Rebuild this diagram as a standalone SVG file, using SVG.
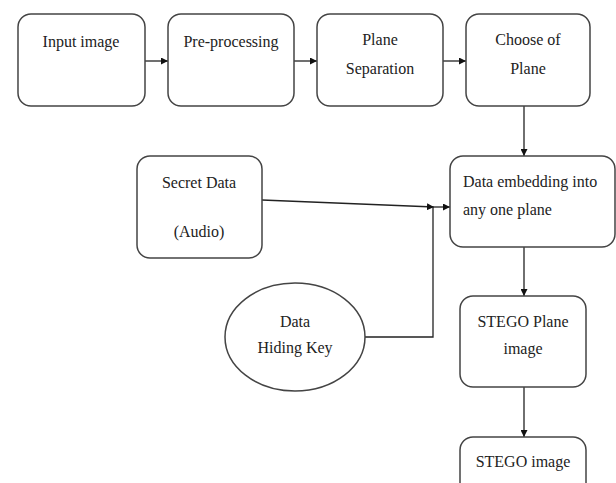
<svg xmlns="http://www.w3.org/2000/svg" width="616" height="483" viewBox="0 0 616 483">
<defs>
<style>
.box{fill:#fff;stroke:#444;stroke-width:1.5}
.t{font-family:"Liberation Serif","Times New Roman",serif;font-size:16px;fill:#222}
.c{text-anchor:middle}
.ln{fill:none;stroke:#222;stroke-width:1.3}
</style>
<marker id="ah" viewBox="0 0 10 10" refX="10" refY="5" markerWidth="7" markerHeight="7" markerUnits="userSpaceOnUse" orient="auto">
<path d="M0,0 L10,5 L0,10 z" fill="#111"/>
</marker>
</defs>
<rect width="616" height="483" fill="#fff"/>
<g id="connectors">
<line class="ln" x1="145" y1="61" x2="168" y2="61" marker-end="url(#ah)"/>
<line class="ln" x1="294" y1="61" x2="317" y2="61" marker-end="url(#ah)"/>
<line class="ln" x1="443" y1="61" x2="466" y2="61" marker-end="url(#ah)"/>
<line class="ln" x1="524" y1="106" x2="524" y2="156" marker-end="url(#ah)"/>
<line class="ln" x1="262" y1="200" x2="434" y2="207" marker-end="url(#ah)"/>
<polyline class="ln" points="365,337 433,337 433,207"/>
<line class="ln" x1="434" y1="207" x2="450" y2="207" marker-end="url(#ah)"/>
<line class="ln" x1="524" y1="247" x2="524" y2="296" marker-end="url(#ah)"/>
<line class="ln" x1="524" y1="387" x2="524" y2="437" marker-end="url(#ah)"/>
</g>
<g id="input-image">
<rect class="box" x="18" y="14" width="127" height="92" rx="13"/>
<text class="t c" x="81" y="47">Input image</text>
</g>
<g id="pre-processing">
<rect class="box" x="168" y="14" width="126" height="92" rx="13"/>
<text class="t c" x="231" y="47">Pre-processing</text>
</g>
<g id="plane-separation">
<rect class="box" x="317" y="14" width="126" height="92" rx="13"/>
<text class="t c" x="380" y="45">Plane</text>
<text class="t c" x="380" y="74">Separation</text>
</g>
<g id="choose-of-plane">
<rect class="box" x="466" y="14" width="124" height="92" rx="13"/>
<text class="t c" x="528" y="45">Choose of</text>
<text class="t c" x="528" y="74">Plane</text>
</g>
<g id="secret-data">
<rect class="box" x="137" y="156" width="125" height="102" rx="13"/>
<text class="t c" x="199" y="188">Secret Data</text>
<text class="t c" x="199" y="237">(Audio)</text>
</g>
<g id="data-embedding">
<rect class="box" x="450" y="156" width="165" height="91" rx="13"/>
<text class="t" x="463" y="187">Data embedding into</text>
<text class="t" x="463" y="215">any one plane</text>
</g>
<g id="data-hiding-key">
<ellipse class="box" cx="295" cy="337" rx="70" ry="54"/>
<text class="t c" x="295" y="327">Data</text>
<text class="t c" x="295" y="353">Hiding Key</text>
</g>
<g id="stego-plane-image">
<rect class="box" x="460" y="296" width="126" height="91" rx="13"/>
<text class="t c" x="523" y="327">STEGO Plane</text>
<text class="t c" x="523" y="354">image</text>
</g>
<g id="stego-image">
<rect class="box" x="460" y="437" width="126" height="60" rx="13"/>
<text class="t c" x="523" y="467">STEGO image</text>
</g>
</svg>
